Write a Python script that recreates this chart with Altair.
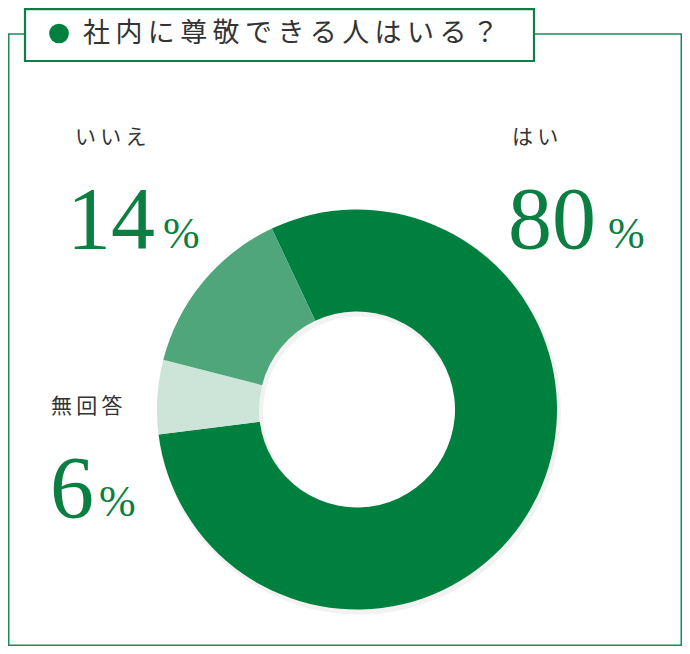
import math
import altair as alt
import pandas as pd

# ---- data ----
categories = ["はい", "無回答", "いいえ"]
values = [80, 6, 14]
slice_order = [1, 2, 3]
slice_colors = ["#00803F", "#CDE5D9", "#4FA67B"]
title_text = "社内に尊敬できる人はいる？"

df = pd.DataFrame({"category": categories, "value": values, "order": slice_order})
one = pd.DataFrame({"a": [0]})

W, H = 674, 638
OFF = -8  # page margin
def px(v):
    return v + OFF

GREEN_TXT = "#0B7F42"
FRAME = "#1E8A57"
JP = "Noto Sans CJK JP"
SERIF = "Liberation Serif"
sp = "\u2009"

start = math.radians(334.8)
cx, cy = px(357), px(409.5)


def text(txt, x, y, size, color, font, baseline="alphabetic", weight="normal"):
    return alt.Chart(one).mark_text(
        text=txt, align="left", baseline=baseline, fontSize=size,
        color=color, font=font, fontWeight=weight,
    ).encode(x=alt.value(x), y=alt.value(y))


# frame lines
top_line = alt.Chart(one).mark_rule(color=FRAME, strokeWidth=1.5).encode(
    x=alt.value(0), x2=alt.value(W), y=alt.value(px(34)))
left_line = alt.Chart(one).mark_rule(color=FRAME, strokeWidth=1.5).encode(
    x=alt.value(0.75), y=alt.value(px(34)), y2=alt.value(H))
right_line = alt.Chart(one).mark_rule(color=FRAME, strokeWidth=1.5).encode(
    x=alt.value(W - 0.75), y=alt.value(px(34)), y2=alt.value(H))
bottom_line = alt.Chart(one).mark_rule(color=FRAME, strokeWidth=1.5).encode(
    x=alt.value(0), x2=alt.value(W), y=alt.value(H - 0.75))

title_box = alt.Chart(one).mark_rect(
    fill="white", stroke="#0D7F45", strokeWidth=2.2
).encode(x=alt.value(px(25)), x2=alt.value(px(534)), y=alt.value(1.2), y2=alt.value(px(61)))

dot = alt.Chart(one).mark_point(
    filled=True, shape="circle", size=390, color="#00803F", opacity=1
).encode(x=alt.value(px(59)), y=alt.value(px(33.5)))

title = text(sp.join(title_text), px(83), px(34), 27, "#333333", JP, baseline="middle")

shadow = alt.Chart(df).mark_arc(
    radius=202, radius2=96, color="#000000", opacity=0.05
).encode(
    theta=alt.Theta("value:Q", stack=True, scale=alt.Scale(range=[start, start + 2 * math.pi])),
    order=alt.Order("order:Q"),
    x=alt.value(cx + 2), y=alt.value(cy + 3),
)

donut = alt.Chart(df).mark_arc(radius=200, radius2=98).encode(
    theta=alt.Theta("value:Q", stack=True, scale=alt.Scale(range=[start, start + 2 * math.pi])),
    order=alt.Order("order:Q"),
    color=alt.Color("category:N", scale=alt.Scale(domain=categories, range=slice_colors), legend=None),
    x=alt.value(cx), y=alt.value(cy),
)

labels = [
    text(sp.join(categories[2]), px(75), px(138), 21, "#333333", JP, baseline="middle"),
    text(sp.join(categories[0]), px(512), px(138), 21, "#333333", JP, baseline="middle"),
    text(sp.join(categories[1]), px(51), px(407), 21, "#333333", JP, baseline="middle"),
    text(f"{values[2]}", px(67), px(248), 88, GREEN_TXT, SERIF),
    text("%", px(163), px(248), 44, GREEN_TXT, SERIF),
    text(f"{values[0]}", px(508), px(248), 88, GREEN_TXT, SERIF),
    text("%", px(608), px(248), 44, GREEN_TXT, SERIF),
    text(f"{values[1]}", px(50), px(517), 88, GREEN_TXT, SERIF),
    text("%", px(99), px(516), 44, GREEN_TXT, SERIF),
]

chart = alt.layer(
    top_line, left_line, right_line, bottom_line, title_box, dot, title,
    shadow, donut, *labels
).properties(
    width=W, height=H, autosize="none", padding=0, background="white"
).configure_view(stroke=None)

chart.save("out.html", embed_options={"renderer": "svg", "actions": False})
